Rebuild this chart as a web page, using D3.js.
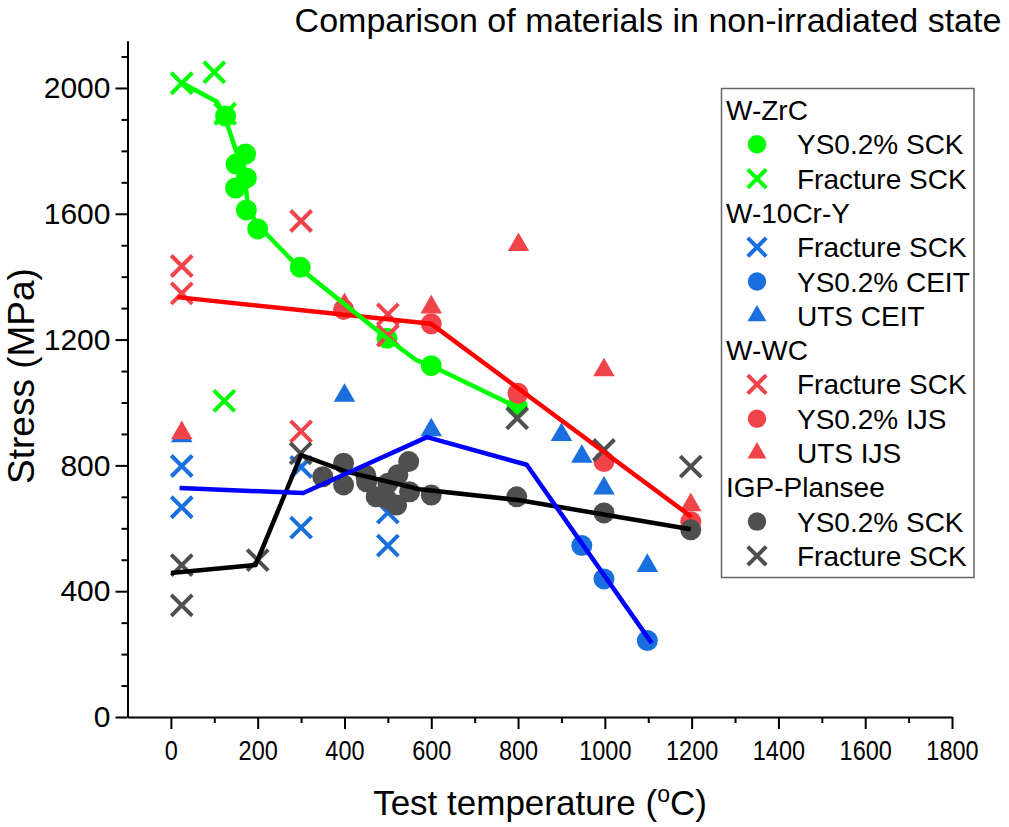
<!DOCTYPE html>
<html>
<head>
<meta charset="utf-8">
<script src="https://cdn.jsdelivr.net/npm/d3@7"></script>
<style>
  body { margin: 0; background: #fff; }
  text { font-family: "Liberation Sans", Arial, sans-serif; fill: #000; }
</style>
</head>
<body>
<div id="chart"></div>
<script>
// W-ZrC
const wzrcYield = [[126,1911],[150,1758],[172,1790],[149,1682],[174,1714],[174,1612],[200,1552],[298,1430],[498,1204],[600,1117],[798,987]];
const wzrcFracture = [[25,2015],[100,2050],[125,1918],[123,1005]];
const wzrcTrend = [[27,2015],[106,1956],[123,1914],[150,1800],[170,1718],[177,1633],[196,1570],[296,1428],[498,1204],[565,1135],[600,1117],[798,985]];

// W-10Cr-Y
const wcryFracture = [[25,798],[25,667],[300,795],[300,602],[500,650],[500,545]];
const wcryYield = [[947,545],[998,439],[1098,243]];
const wcryUts = [[25,893],[400,1022],[600,912],[900,897],[947,828],[998,727],[1098,481]];
const wcryTrend = [[20,728],[305,712],[590,890],[820,802],[1108,235]];

// W-WC
const wwcFracture = [[25,1434],[25,1347],[300,1577],[300,908],[500,1280],[500,1213]];
const wwcYield = [[398,1296],[600,1250],[800,1029],[998,812],[1198,621]];
const wwcUts = [[25,903],[400,1310],[600,1303],[801,1501],[998,1103],[1198,674]];
const wwcTrend = [[15,1335],[600,1250],[1200,636]];

// IGP-Plansee
const igpYield = [[350,764],[398,807],[398,738],[449,769],[451,748],[473,700],[500,743],[523,770],[548,812],[550,716],[520,674],[496,695],[600,706],[797,700],[998,649],[1198,595]];
const igpFracture = [[25,483],[25,355],[200,499],[299,838],[798,950],[998,849],[1198,796]];
const igpTrend = [[0,458],[195,483],[300,833],[404,780],[573,724],[800,690],[1198,597]];

const xMajor = d3.range(0, 1801, 200);
const yMajor = d3.range(0, 2001, 400);

const green = "#00ff00", blue = "#1a6fdf", red = "#f0434a", grey = "#4f4f4f";

const width = 1009, height = 827;
const x = d3.scaleLinear().domain([-100, 1800]).range([127.5, 952]);
const y = d3.scaleLinear().domain([0, 2150]).range([717, 40.8]);

const svg = d3.select("#chart").append("svg")
  .attr("width", width).attr("height", height);

// marker series, in drawing order
const series = [
  { data: wzrcYield, sym: "circle", color: green },
  { data: wzrcFracture, sym: "cross", color: green },
  { data: wcryFracture, sym: "cross", color: blue },
  { data: wcryYield, sym: "circle", color: blue },
  { data: wcryUts, sym: "triangle", color: blue },
  { data: wwcFracture, sym: "cross", color: red },
  { data: wwcYield, sym: "circle", color: red },
  { data: wwcUts, sym: "triangle", color: red },
  { data: igpYield, sym: "circle", color: grey },
  { data: igpFracture, sym: "cross", color: grey }
];

const trends = [
  { data: wwcTrend, color: "#ff0000" },
  { data: wzrcTrend, color: green },
  { data: igpTrend, color: "#000000" },
  { data: wcryTrend, color: "#0000ff" }
];

function drawSymbol(g, sym, color, s) {
  if (sym === "circle") {
    g.append("circle").attr("r", 10.5 * s).attr("fill", color);
  } else if (sym === "cross") {
    const a = 10.5 * s;
    g.append("path").attr("d", `M${-a},${-a}L${a},${a}M${-a},${a}L${a},${-a}`)
      .attr("stroke", color).attr("stroke-width", 4).attr("fill", "none");
  } else {
    g.append("path").attr("d", d3.symbol(d3.symbolTriangle, 200 * s * s)())
      .attr("fill", color);
  }
}

// axes
const axisStyle = g => {
  g.selectAll("path.domain").attr("stroke", "#000").attr("stroke-width", 2);
  g.selectAll(".tick line").attr("stroke", "#000").attr("stroke-width", 2);
};

const xAxis = svg.append("g").attr("transform", "translate(0,717)")
  .call(d3.axisBottom(x).tickValues(xMajor).tickSize(12).tickSizeOuter(0).tickPadding(11).tickFormat(d3.format("d")))
  .call(axisStyle);
xAxis.selectAll(".tick text").attr("font-size", 28).attr("font-family", "Liberation Sans, Arial, sans-serif")
  .attr("transform", "scale(0.84,1)");
svg.append("g").attr("transform", "translate(0,717)")
  .call(d3.axisBottom(x).tickValues(d3.range(100, 1800, 200)).tickSize(6).tickSizeOuter(0).tickFormat(""))
  .call(axisStyle).select("path.domain").remove();

const yAxis = svg.append("g").attr("transform", "translate(127.5,0)")
  .call(d3.axisLeft(y).tickValues(yMajor).tickSize(12).tickSizeOuter(0).tickPadding(5).tickFormat(d3.format("d")))
  .call(axisStyle);
yAxis.selectAll(".tick text").attr("font-size", 30).attr("font-family", "Liberation Sans, Arial, sans-serif");
svg.append("g").attr("transform", "translate(127.5,0)")
  .call(d3.axisLeft(y).tickValues(d3.range(100, 2150, 100).filter(v => v % 400 !== 0)).tickSize(6).tickSizeOuter(0).tickFormat(""))
  .call(axisStyle).select("path.domain").remove();

// markers
series.forEach(s => {
  svg.append("g").selectAll("g").data(s.data).join("g")
    .attr("transform", d => `translate(${x(d[0])},${y(d[1])})`)
    .each(function () { drawSymbol(d3.select(this), s.sym, s.color, 1); });
});

// trend lines
const line = d3.line().x(d => x(d[0])).y(d => y(d[1]));
trends.forEach(t => {
  svg.append("path").datum(t.data).attr("d", line)
    .attr("fill", "none").attr("stroke", t.color).attr("stroke-width", 4.5)
    .attr("stroke-linejoin", "round");
});

// titles
svg.append("text").attr("x", 648).attr("y", 32).attr("text-anchor", "middle")
  .attr("font-size", 34).text("Comparison of materials in non-irradiated state");

const xt = svg.append("text").attr("x", 540).attr("y", 815).attr("text-anchor", "middle")
  .attr("font-size", 35);
xt.append("tspan").text("Test temperature (");
xt.append("tspan").attr("font-size", 23).attr("dy", -13).text("o");
xt.append("tspan").attr("dy", 13).text("C)");

svg.append("text").attr("transform", "translate(34,376) rotate(-90)")
  .attr("text-anchor", "middle").attr("font-size", 37).text("Stress (MPa)");

// legend
const legendRows = [
  { head: "W-ZrC" },
  { label: "YS0.2% SCK", s: series[0] },
  { label: "Fracture SCK", s: series[1] },
  { head: "W-10Cr-Y" },
  { label: "Fracture SCK", s: series[2] },
  { label: "YS0.2% CEIT", s: series[3] },
  { label: "UTS CEIT", s: series[4] },
  { head: "W-WC" },
  { label: "Fracture SCK", s: series[5] },
  { label: "YS0.2% IJS", s: series[6] },
  { label: "UTS IJS", s: series[7] },
  { head: "IGP-Plansee" },
  { label: "YS0.2% SCK", s: series[8] },
  { label: "Fracture SCK", s: series[9] }
];

const legend = svg.append("g");
legend.append("rect").attr("x", 721.5).attr("y", 88.5).attr("width", 252.5).attr("height", 489)
  .attr("fill", "#fff").attr("stroke", "#666").attr("stroke-width", 1.5);
legendRows.forEach((r, i) => {
  const cy = 110 + i * 34.3;
  if (r.head) {
    legend.append("text").attr("x", 726).attr("y", cy).attr("dy", "0.36em")
      .attr("font-size", 28).text(r.head);
  } else {
    const g = legend.append("g").attr("transform", `translate(757,${cy})`);
    drawSymbol(g, r.s.sym, r.s.color, 0.88);
    legend.append("text").attr("x", 797).attr("y", cy).attr("dy", "0.36em")
      .attr("font-size", 28).text(r.label);
  }
});
</script>
</body>
</html>
